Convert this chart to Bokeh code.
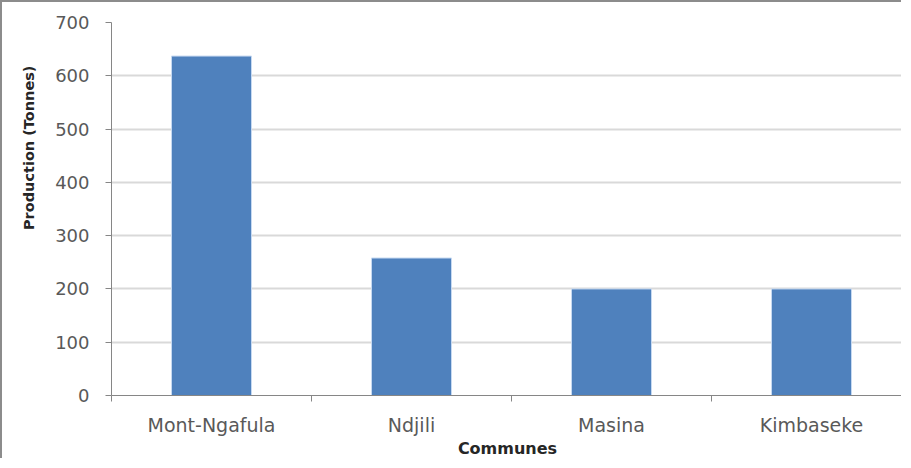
from bokeh.plotting import figure
from bokeh.models import ColumnDataSource, Range1d, FixedTicker, Title
from bokeh.embed import file_html
from bokeh.resources import INLINE

communes = ["Mont-Ngafula", "Ndjili", "Masina", "Kimbaseke"]
production = [637, 258, 200, 200]
y_ticks = [0, 100, 200, 300, 400, 500, 600, 700]

centers = [i + 0.5 for i in range(len(communes))]
bounds = list(range(len(communes) + 1))

src = ColumnDataSource(dict(x=centers, top=production, name=communes))

p = figure(width=901, height=458, output_backend="svg", toolbar_location=None,
           x_range=Range1d(0, 3.96), y_range=Range1d(0, 700),
           min_border_left=109, min_border_top=20, min_border_bottom=65, min_border_right=0)
p.styles = {"border-top": "2px solid #8c8c8c", "border-left": "2px solid #8c8c8c"}
p.outline_line_color = None
p.background_fill_color = "white"
p.border_fill_color = "white"

p.vbar(x="x", top="top", width=0.4, bottom=0, source=src,
       fill_color="#4F81BD", line_color="#c6d9f1", line_width=1)

font = "DejaVu Sans"
# y axis
p.yaxis.ticker = FixedTicker(ticks=y_ticks, minor_ticks=[])
p.yaxis.axis_line_color = "#868686"
p.yaxis.major_tick_line_color = "#868686"
p.yaxis.major_tick_out = 6
p.yaxis.major_tick_in = 0
p.yaxis.minor_tick_line_color = None
p.yaxis.major_label_standoff = 16
p.yaxis.major_label_text_font = font
p.yaxis.major_label_text_font_size = "18px"
p.yaxis.major_label_text_color = "#595959"

# x axis
p.xaxis.ticker = FixedTicker(ticks=centers, minor_ticks=bounds)
p.xaxis.major_label_overrides = {c: n for c, n in zip(centers, communes)}
p.xaxis.axis_line_color = "#868686"
p.xaxis.major_tick_line_color = None
p.xaxis.major_tick_out = 0
p.xaxis.minor_tick_line_color = "#868686"
p.xaxis.minor_tick_out = 6
p.xaxis.minor_tick_in = 0
p.xaxis.major_label_standoff = 12
p.xaxis.major_label_text_font = font
p.xaxis.major_label_text_font_size = "19px"
p.xaxis.major_label_text_color = "#595959"
p.xaxis.axis_label = "Communes"
p.xaxis.axis_label_text_font = font
p.xaxis.axis_label_text_font_style = "bold"
p.xaxis.axis_label_text_font_size = "16px"
p.xaxis.axis_label_text_color = "#262626"
p.xaxis.axis_label_standoff = 0

p.xgrid.grid_line_color = None
p.ygrid.grid_line_color = "#d9d9d9"
p.ygrid.grid_line_width = 2

ytitle = Title(text="Production (Tonnes)", align="right", offset=43, standoff=31,
               text_font=font, text_font_style="bold", text_font_size="14.5px",
               text_color="#262626")
p.add_layout(ytitle, "left")

open("out.html", "w").write(file_html(p, INLINE))
